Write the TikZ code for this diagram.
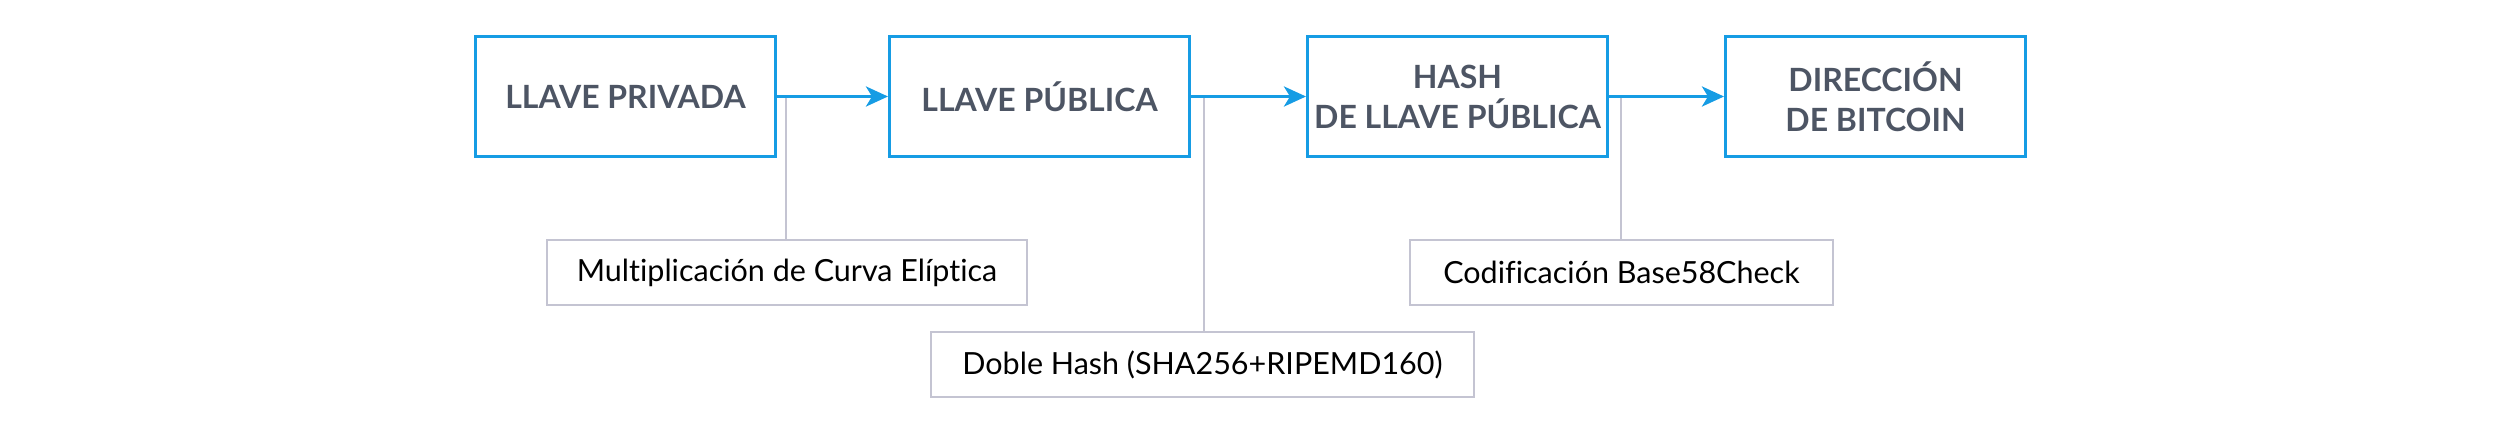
\documentclass[tikz,border=0pt]{standalone}
\usepackage{fontspec}
\setmainfont[Ligatures={NoCommon}]{Lato}
\usetikzlibrary{arrows.meta}
\definecolor{bblue}{RGB}{22,156,228}
\definecolor{ttext}{RGB}{77,85,100}
\definecolor{lgray}{RGB}{196,196,210}
\tikzset{
  keybox/.style={draw=bblue, line width=3pt, minimum width=300pt, minimum height=120pt, inner sep=0pt,
    align=center, text=ttext, font=\fontsize{32}{40}\selectfont\bfseries},
  opbox/.style={draw=lgray, line width=2pt, minimum height=65pt, inner sep=0pt,
    align=center, text=black, font=\fontsize{30.5}{34}\selectfont},
  flow/.style={draw=bblue, line width=3.5pt, -{Stealth[length=22pt,width=20pt,inset=6pt]}},
  tie/.style={draw=lgray, line width=2pt}
}
\begin{document}
\begin{tikzpicture}[x=1pt,y=-1pt]
\useasboundingbox (0,0) rectangle (2501,441);
\node[keybox] (b1) at (625.5,96.5) {LLAVE PRIVADA};
\node[keybox] (b2) at (1039.5,96.5) {LLAVE PÚBLICA};
\node[keybox] (b3) at (1457.5,96.5) {HASH\\DE LLAVE PÚBLICA};
\node[keybox] (b4) at (1875.5,96.5) {DIRECCIÓN\\DE BITCOIN};
\node[opbox, minimum width=480pt] (m) at (787,272.5) {Multiplicación de Curva Elíptica};
\node[opbox, minimum width=543pt] (d) at (1202.5,364.5) {Doble Hash (SHA256+RIPEMD160)};
\node[opbox, minimum width=423pt] (c) at (1621.5,272.5) {Codificación Base58Check};
\coordinate (j1) at (786,97);
\coordinate (j2) at (1204,97);
\coordinate (j3) at (1621,97);
\draw[tie] (j1) -- (j1 |- m.north);
\draw[tie] (j2) -- (j2 |- d.north);
\draw[tie] (j3) -- (j3 |- c.north);
\draw[flow] (b1.east) -- (b2.west);
\draw[flow] (b2.east) -- (b3.west);
\draw[flow] (b3.east) -- (b4.west);
\end{tikzpicture}
\end{document}
